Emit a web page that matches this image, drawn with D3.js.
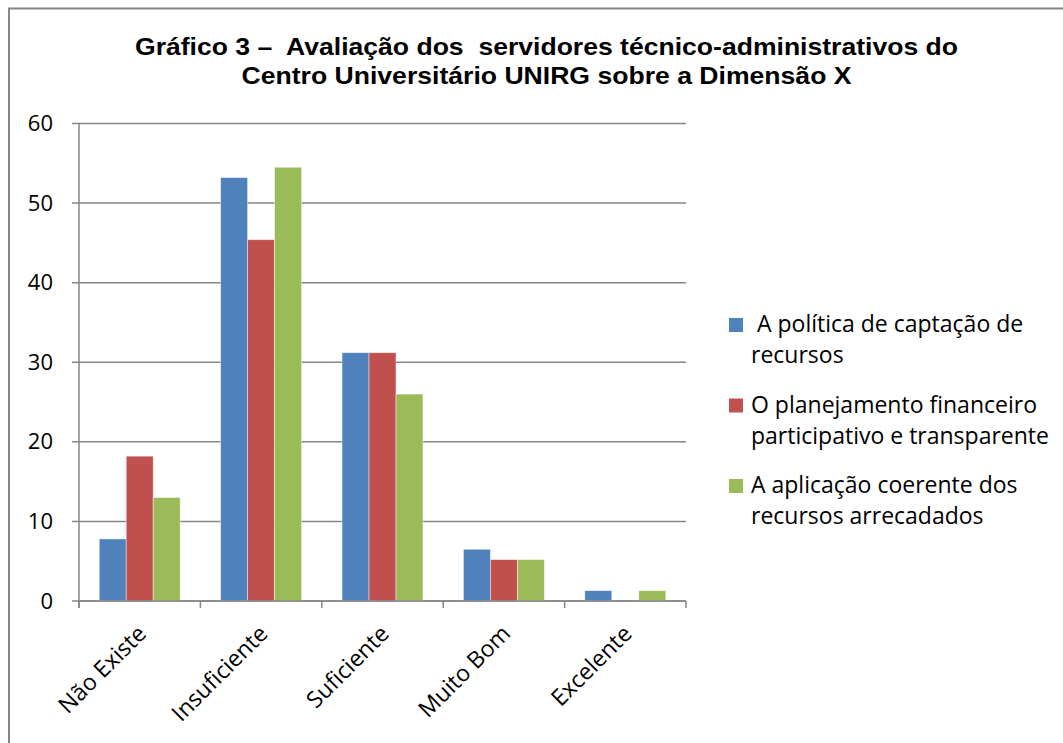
<!DOCTYPE html>
<html>
<head>
<meta charset="utf-8">
<script src="https://cdn.jsdelivr.net/npm/d3@7"></script>
<style>
  body { margin: 0; background: #fff; }
  text { white-space: pre; }
</style>
</head>
<body>
<svg id="chart" width="1063" height="743"></svg>
<script>
'use strict';

var categories = ['Não Existe', 'Insuficiente', 'Suficiente', 'Muito Bom', 'Excelente'];
var seriesNames = [' A política de captação de|recursos',
                   'O planejamento financeiro|participativo e transparente',
                   'A aplicação coerente dos|recursos arrecadados'];
var seriesColors = ['#4F81BD', '#C0504D', '#9BBB59'];
var captacao = [7.8, 53.2, 31.2, 6.5, 1.3];
var planejamento = [18.2, 45.4, 31.2, 5.2, 0];
var aplicacao = [13, 54.5, 26, 5.2, 1.3];
var yTicks = [0, 10, 20, 30, 40, 50, 60];
var titleLines = ['Gráfico 3 –  Avaliação dos  servidores técnico-administrativos do',
                  'Centro Universitário UNIRG sobre a Dimensão X'];

var allSeries = [captacao, planejamento, aplicacao];

var svg = d3.select('#chart');
var bodyFont = '"Open Sans", Lato, sans-serif';
var bodySize = '23px';
var gridColor = '#868686';

svg.append('rect').attr('width', 1063).attr('height', 743).attr('fill', '#fff');

// chart frame (runs off the right and bottom edges like the source)
svg.append('rect')
  .attr('x', 9).attr('y', 8.5)
  .attr('width', 1200).attr('height', 900)
  .attr('fill', 'none')
  .attr('stroke', gridColor).attr('stroke-width', 2);

// title
var titleWidths = [823, 610];
svg.selectAll('text.title')
  .data(titleLines)
  .enter().append('text')
  .attr('class', 'title')
  .attr('x', 546.5)
  .attr('y', function(d, i) { return 55 + i * 29; })
  .attr('text-anchor', 'middle')
  .attr('textLength', function(d, i) { return titleWidths[i]; })
  .attr('lengthAdjust', 'spacingAndGlyphs')
  .style('font-family', '"Liberation Sans", Arial, sans-serif')
  .style('font-weight', 'bold')
  .style('font-size', '24px')
  .text(function(d) { return d; });

var plot = { left: 79, right: 686, top: 123.5, bottom: 601 };

var x = d3.scaleBand().domain(categories).range([plot.left, plot.right]);
var xs = d3.scaleBand().domain(d3.range(allSeries.length))
  .range([0, x.bandwidth()]).paddingOuter(0.75);
var y = d3.scaleLinear().domain([0, 60]).range([plot.bottom, plot.top]);

// gridlines + y ticks
svg.append('g').selectAll('line')
  .data(yTicks)
  .enter().append('line')
  .attr('x1', plot.left - 7).attr('x2', plot.right)
  .attr('y1', function(d) { return y(d); })
  .attr('y2', function(d) { return y(d); })
  .attr('stroke', gridColor).attr('stroke-width', 1.5);

var yAxis = d3.axisLeft(y).tickValues(yTicks).tickSize(0).tickPadding(26);
var gy = svg.append('g').attr('transform', 'translate(' + plot.left + ',0)').call(yAxis);
gy.select('.domain').remove();
gy.selectAll('text')
  .style('font-family', bodyFont).style('font-size', '22px').attr('fill', '#000');

// bars
var groups = svg.append('g').selectAll('g')
  .data(allSeries)
  .enter().append('g')
  .attr('fill', function(d, i) { return seriesColors[i]; });

groups.each(function(vals, si) {
  d3.select(this).selectAll('rect')
    .data(vals)
    .enter().append('rect')
    .attr('x', function(d, ci) { return x(categories[ci]) + xs(si); })
    .attr('width', xs.bandwidth())
    .attr('y', function(d) { return y(d); })
    .attr('height', function(d) { return plot.bottom - y(d); })
    .attr('stroke', 'rgba(255,255,255,0.55)')
    .attr('stroke-width', 0.8);
});

// axes lines
svg.append('line')
  .attr('x1', plot.left).attr('x2', plot.left)
  .attr('y1', plot.top).attr('y2', plot.bottom + 7)
  .attr('stroke', gridColor).attr('stroke-width', 1.5);

var xAxis = d3.axisBottom(x).tickSize(0).tickFormat('');
var gx = svg.append('g').attr('transform', 'translate(0,' + plot.bottom + ')').call(xAxis);
gx.select('.domain').attr('stroke', gridColor).attr('stroke-width', 1.5)
  .attr('d', 'M' + plot.left + ',0H' + plot.right);
gx.selectAll('.tick').remove();

var bounds = categories.map(function(c) { return x(c); }).concat([plot.right]);
svg.append('g').selectAll('line')
  .data(bounds)
  .enter().append('line')
  .attr('x1', function(d) { return d; }).attr('x2', function(d) { return d; })
  .attr('y1', plot.bottom).attr('y2', plot.bottom + 7)
  .attr('stroke', gridColor).attr('stroke-width', 1.5);

// rotated category labels
svg.append('g').selectAll('text')
  .data(categories)
  .enter().append('text')
  .attr('transform', function(d) {
    return 'translate(' + (x(d) + x.bandwidth() / 2 + 8) + ',' + (plot.bottom + 34) + ') rotate(-45)';
  })
  .attr('text-anchor', 'end')
  .style('font-family', bodyFont).style('font-size', bodySize)
  .text(function(d) { return d; });

// legend
var legend = svg.append('g').selectAll('g')
  .data(seriesNames)
  .enter().append('g')
  .attr('transform', function(d, i) { return 'translate(729,' + (318 + i * 80.5) + ')'; });

legend.append('rect')
  .attr('width', 14).attr('height', 14)
  .attr('fill', function(d, i) { return seriesColors[i]; });

legend.each(function(d) {
  var t = d3.select(this).append('text')
    .style('font-family', bodyFont).style('font-size', bodySize);
  d.split('|').forEach(function(line, li) {
    t.append('tspan').attr('x', 22).attr('y', 14 + li * 31).text(line);
  });
});
</script>
</body>
</html>
